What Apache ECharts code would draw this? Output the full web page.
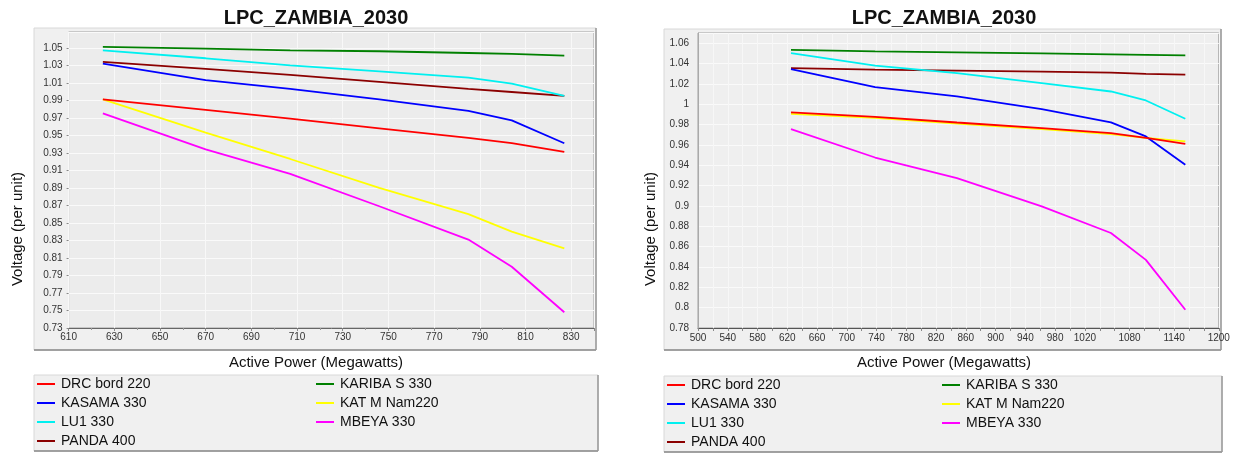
<!DOCTYPE html>
<html><head><meta charset="utf-8">
<script src="https://cdn.jsdelivr.net/npm/echarts@6/dist/echarts.min.js"></script>
<style>html,body{margin:0;padding:0;background:#fff}#c{width:1242px;height:453px}</style>
</head><body><div id="c"></div>
<script>
const chartTitle = 'LPC_ZAMBIA_2030';
const xAxisName = 'Active Power (Megawatts)';
const yAxisName = 'Voltage (per unit)';
const seriesNames = ['DRC bord 220', 'KASAMA 330', 'LU1 330', 'PANDA 400', 'KARIBA S 330', 'KAT M Nam220', 'MBEYA 330'];
const legendCol1 = ['DRC bord 220', 'KASAMA 330', 'LU1 330', 'PANDA 400'];
const legendCol2 = ['KARIBA S 330', 'KAT M Nam220', 'MBEYA 330'];

// left chart (MW, p.u.)
const leftPower  = [625, 670, 707, 746, 785, 804, 827];
const leftDRC    = [0.991, 0.979, 0.969, 0.958, 0.947, 0.941, 0.931];
const leftKASAMA = [1.032, 1.013, 1.003, 0.991, 0.978, 0.967, 0.941];
const leftLU1    = [1.047, 1.038, 1.030, 1.023, 1.016, 1.009, 0.995];
const leftPANDA  = [1.034, 1.026, 1.019, 1.011, 1.003, 0.9995, 0.995];
const leftKARIBA = [1.051, 1.049, 1.047, 1.046, 1.044, 1.043, 1.041];
const leftKATM   = [0.991, 0.953, 0.923, 0.890, 0.860, 0.840, 0.821];
const leftMBEYA  = [0.975, 0.934, 0.906, 0.869, 0.831, 0.800, 0.748];

// right chart (MW, p.u.)
const rightPower  = [625, 738, 848, 962, 1055, 1102, 1155];
const rightDRC    = [0.992, 0.9875, 0.982, 0.9765, 0.9715, 0.967, 0.961];
const rightKASAMA = [1.0345, 1.0168, 1.0076, 0.9952, 0.9821, 0.9683, 0.9405];
const rightLU1    = [1.0502, 1.038, 1.0305, 1.0207, 1.0125, 1.0037, 0.9857];
const rightPANDA  = [1.0355, 1.034, 1.033, 1.032, 1.031, 1.0299, 1.029];
const rightKARIBA = [1.0535, 1.052, 1.051, 1.050, 1.049, 1.0485, 1.048];
const rightKATM   = [0.9905, 0.9865, 0.981, 0.9755, 0.9705, 0.967, 0.9635];
const rightMBEYA  = [0.9755, 0.9476, 0.9274, 0.8995, 0.8734, 0.847, 0.798];

const rightXLabels = [500, 540, 580, 620, 660, 700, 740, 780, 820, 860, 900, 940, 980, 1020, 1080, 1140, 1200];

const colors = {
  'DRC bord 220': '#ff0000', 'KASAMA 330': '#0000ff', 'LU1 330': '#00f0f0', 'PANDA 400': '#8b0000',
  'KARIBA S 330': '#008000', 'KAT M Nam220': '#ffff00', 'MBEYA 330': '#ff00ff'
};
const leftVals = [leftDRC, leftKASAMA, leftLU1, leftPANDA, leftKARIBA, leftKATM, leftMBEYA];
const rightVals = [rightDRC, rightKASAMA, rightLU1, rightPANDA, rightKARIBA, rightKATM, rightMBEYA];

const FF = '"Liberation Sans", Arial, sans-serif';
const fmt = v => String(+(+v).toFixed(2));

function mkSeries(xs, vals, idx) {
  return seriesNames.map((n, i) => ({
    name: n, type: 'line', xAxisIndex: idx, yAxisIndex: idx,
    data: xs.map((x, k) => [x, vals[i][k]]),
    symbol: 'none', showSymbol: false, color: colors[n],
    lineStyle: { width: 1.8, color: colors[n] }, z: 3 + (6 - i) * 0.01
  }));
}

const axisLabelStyle = { fontFamily: FF, fontSize: 10, color: '#333' };

function legend(data, left, top) {
  return {
    data, orient: 'vertical', left, top, padding: 0, itemGap: 0,
    itemWidth: 18, itemHeight: 2, icon: 'rect', selectedMode: false,
    textStyle: { fontFamily: FF, fontSize: 14, lineHeight: 19, color: '#111', padding: [0, 0, 0, 1] }
  };
}

function panel(x, y, w, h) {
  return [
    { type: 'rect', z: -100, shape: { x, y, width: w, height: h }, style: { fill: '#f0f0f0', stroke: '#d8d8d8', lineWidth: 1 } },
    { type: 'line', z: -99, shape: { x1: x, y1: y + h, x2: x + w, y2: y + h }, style: { stroke: '#888', lineWidth: 1.5 } },
    { type: 'line', z: -99, shape: { x1: x + w, y1: y, x2: x + w, y2: y + h }, style: { stroke: '#999', lineWidth: 1.5 } }
  ];
}
function txt(text, x, y, size, bold, rot) {
  return { type: 'text', x, y, rotation: rot || 0, z: 10,
    style: { text, font: (bold ? 'bold ' : '') + size + 'px ' + FF, textAlign: 'center', textVerticalAlign: 'middle', fill: '#111' } };
}

const option = {
  animation: false,
  grid: [
    { left: 68.6, top: 32, width: 525.4, height: 296, show: true, backgroundColor: '#ececec', borderColor: '#a0a0a0', borderWidth: 1 },
    { left: 698, top: 33, width: 520.8, height: 295, show: true, backgroundColor: '#efefef', borderColor: '#a0a0a0', borderWidth: 1 }
  ],
  xAxis: [
    { type: 'value', gridIndex: 0, min: 610, max: 840, interval: 20,
      axisLine: { show: true, lineStyle: { color: '#666' } },
      axisTick: { show: true, length: 3, lineStyle: { color: '#888' } },
      minorTick: { show: true, splitNumber: 2, length: 2, lineStyle: { color: '#999' } },
      splitLine: { show: true, lineStyle: { color: '#f8f8f8', width: 1 } },
      axisLabel: Object.assign({ margin: 4, showMaxLabel: false }, axisLabelStyle) },
    { type: 'value', gridIndex: 1, min: 500, max: 1200, interval: 20,
      axisLine: { show: true, lineStyle: { color: '#555' } },
      axisTick: { show: true, length: 3, lineStyle: { color: '#888' } },
      splitLine: { show: true, lineStyle: { color: '#f7f7f7', width: 1 } },
      axisLabel: Object.assign({ margin: 5, formatter: v => rightXLabels.indexOf(Math.round(v)) >= 0 ? String(Math.round(v)) : '' }, axisLabelStyle) }
  ],
  yAxis: [
    { type: 'value', gridIndex: 0, min: 0.73, max: 1.068, interval: 0.02,
      axisLine: { show: false },
      axisTick: { show: true, length: 2, lineStyle: { color: '#888' } },
      splitLine: { show: true, lineStyle: { color: '#fafafa', width: 1 } },
      axisLabel: Object.assign({ margin: 6, showMaxLabel: false, formatter: fmt }, axisLabelStyle) },
    { type: 'value', gridIndex: 1, min: 0.78, max: 1.07, interval: 0.02,
      axisLine: { show: true, lineStyle: { color: '#aaa' } },
      axisTick: { show: false },
      splitLine: { show: true, lineStyle: { color: '#fafafa', width: 1 } },
      axisLabel: Object.assign({ margin: 9, showMaxLabel: false, formatter: fmt }, axisLabelStyle) }
  ],
  legend: [
    legend(legendCol1, 37, 374.5), legend(legendCol2, 316, 374.5),
    legend(legendCol1, 667, 375.5), legend(legendCol2, 942, 375.5)
  ],
  graphic: [].concat(
    panel(34, 28, 562, 322),
    panel(664, 29, 557, 321),
    panel(34, 375, 564, 76),
    panel(664, 376, 558, 76),
    [
      txt(chartTitle, 316, 18, 20, true),
      txt(chartTitle, 944, 18, 20, true),
      txt(xAxisName, 316, 363, 15, false),
      txt(xAxisName, 944, 363, 15, false),
      txt(yAxisName, 17.6, 229, 15, false, Math.PI / 2),
      txt(yAxisName, 651, 229, 15, false, Math.PI / 2)
    ]
  ),
  series: mkSeries(leftPower, leftVals, 0).concat(mkSeries(rightPower, rightVals, 1))
};
const chart = echarts.init(document.getElementById('c'), null, { renderer: 'canvas' });
chart.setOption(option);
</script></body></html>
